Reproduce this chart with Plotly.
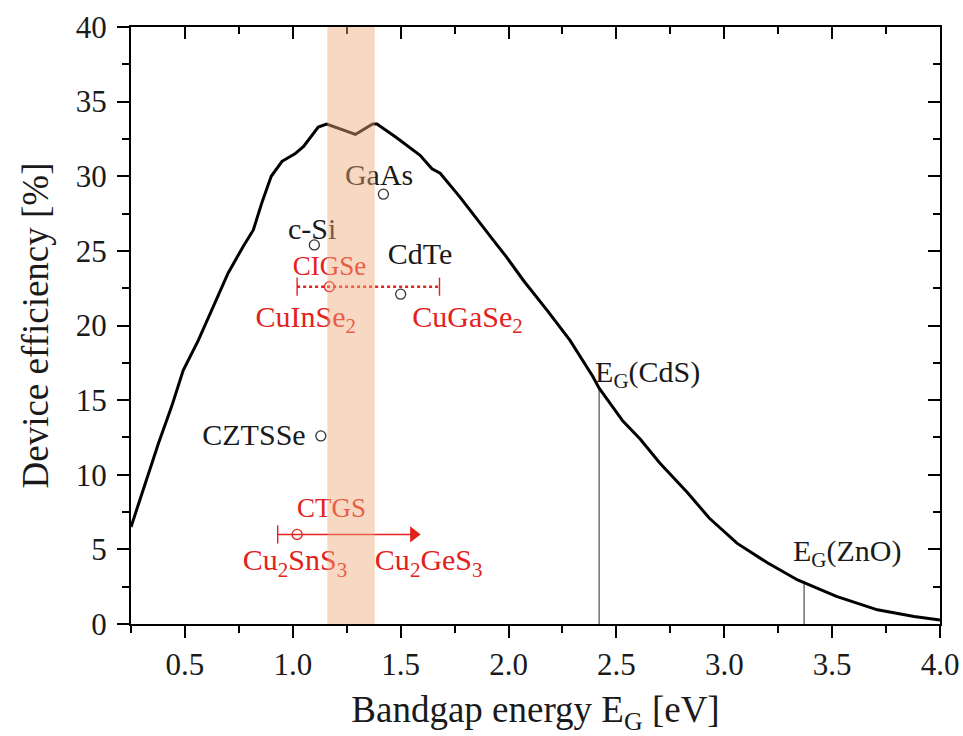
import plotly.graph_objects as go

# Efficiency limit versus absorber bandgap
bandgap_ev = [0.25, 0.315, 0.377, 0.439, 0.492, 0.562, 0.639, 0.70, 0.77, 0.817,
              0.856, 0.90, 0.95, 1.01, 1.05, 1.118, 1.157, 1.29, 1.37, 1.39,
              1.48, 1.59, 1.645, 1.683, 1.775, 1.822, 1.93, 1.99, 2.07, 2.18,
              2.285, 2.39, 2.42, 2.53, 2.61, 2.70, 2.83, 2.93, 3.06, 3.20,
              3.34, 3.52, 3.71, 3.88, 4.0]
efficiency_pct = [6.5, 9.4, 12.1, 14.6, 17.0, 19.0, 21.5, 23.5, 25.3, 26.4,
                  28.2, 30.0, 31.0, 31.5, 32.0, 33.3, 33.5, 32.8, 33.5, 33.5,
                  32.6, 31.4, 30.5, 30.2, 28.6, 27.7, 25.7, 24.6, 23.0, 21.0,
                  19.0, 16.6, 15.8, 13.6, 12.4, 10.8, 8.8, 7.1, 5.4, 4.1,
                  2.95, 1.85, 0.95, 0.5, 0.27]

# Record devices (bandgap, efficiency)
device_names = ["GaAs", "c-Si", "CdTe", "CZTSSe"]
device_eg = [1.42, 1.10, 1.50, 1.13]
device_eff = [28.8, 25.4, 22.1, 12.6]
device_label_x = [1.40, 1.09, 1.59, 0.82]
device_label_y = [29.9, 26.3, 24.6, 12.5]

# Tunable alloys: CIGSe (CuInSe2 -> CuGaSe2), CTGS (Cu2SnS3 -> Cu2GeS3)
cigse_range = [1.02, 1.68]
cigse_point = [1.17, 22.6]
ctgs_range = [0.93, 1.56]
ctgs_point = [1.02, 6.0]
alloy_names = ["CIGSe", "CuInSe<sub>2</sub>", "CuGaSe<sub>2</sub>",
               "CTGS", "Cu<sub>2</sub>SnS<sub>3</sub>", "Cu<sub>2</sub>GeS<sub>3</sub>"]
alloy_label_x = [1.17, 1.06, 1.81, 1.18, 1.01, 1.63]
alloy_label_y = [23.85, 20.4, 20.4, 7.6, 4.1, 4.1]

# Buffer / window layer bandgaps
window_names = ["E<sub>G</sub>(CdS)", "E<sub>G</sub>(ZnO)"]
window_eg = [2.42, 3.37]
window_eff = [15.7, 2.9]
window_label_x = [2.645, 3.57]
window_label_y = [16.75, 4.75]

# Optimum bandgap window
optimum_band = [1.16, 1.38]

FONT = "Liberation Serif"
RED = "#e3221c"
INK = "#1a1a1a"
LABEL_SIZE = 30
SMALL_LABEL_SIZE = 27

fig = go.Figure()

# vertical markers at window-layer bandgaps
for eg, eff in zip(window_eg, window_eff):
    fig.add_trace(go.Scatter(x=[eg, eg], y=[0, eff], mode="lines",
                             line=dict(color="#5a5a5a", width=1.3),
                             hoverinfo="skip", showlegend=False))

fig.add_trace(go.Scatter(x=bandgap_ev, y=efficiency_pct, mode="lines",
                         line=dict(color="black", width=3),
                         showlegend=False))

# CIGSe range: dotted bar with end caps
fig.add_trace(go.Scatter(x=cigse_range, y=[cigse_point[1]] * 2, mode="lines",
                         line=dict(color=RED, width=2.6, dash="dot"),
                         showlegend=False))
fig.add_trace(go.Scatter(x=cigse_range, y=[cigse_point[1]] * 2, mode="markers",
                         marker=dict(symbol="line-ns", size=13,
                                     line=dict(color=RED, width=1.4)),
                         showlegend=False))
fig.add_trace(go.Scatter(x=[cigse_point[0]], y=[cigse_point[1]], mode="markers",
                         marker=dict(symbol="circle-open", size=10,
                                     color=RED, line=dict(width=1.3)),
                         showlegend=False))

# CTGS range: solid arrow
fig.add_trace(go.Scatter(x=ctgs_range, y=[ctgs_point[1]] * 2, mode="lines",
                         line=dict(color=RED, width=1.6), showlegend=False))
fig.add_trace(go.Scatter(x=[ctgs_range[0]], y=[ctgs_point[1]], mode="markers",
                         marker=dict(symbol="line-ns", size=13,
                                     line=dict(color=RED, width=1.4)),
                         showlegend=False))
fig.add_trace(go.Scatter(x=[ctgs_range[1]], y=[ctgs_point[1]], mode="markers",
                         marker=dict(symbol="triangle-right", size=14, color=RED,
                                     line=dict(width=0)),
                         showlegend=False))
fig.add_trace(go.Scatter(x=[ctgs_point[0]], y=[ctgs_point[1]], mode="markers",
                         marker=dict(symbol="circle-open", size=10,
                                     color=RED, line=dict(width=1.3)),
                         showlegend=False))

# record devices
fig.add_trace(go.Scatter(x=device_eg, y=device_eff, mode="markers",
                         marker=dict(symbol="circle-open", size=10,
                                     color="#333333", line=dict(width=1.3)),
                         showlegend=False))

# labels
fig.add_trace(go.Scatter(x=device_label_x, y=device_label_y, mode="text",
                         text=device_names, textposition="middle center",
                         textfont=dict(family=FONT, size=LABEL_SIZE, color=INK),
                         showlegend=False))
fig.add_trace(go.Scatter(x=alloy_label_x[:1] + alloy_label_x[3:4],
                         y=alloy_label_y[:1] + alloy_label_y[3:4], mode="text",
                         text=[alloy_names[0], alloy_names[3]],
                         textposition="middle center",
                         textfont=dict(family=FONT, size=SMALL_LABEL_SIZE,
                                       color=RED),
                         showlegend=False))
fig.add_trace(go.Scatter(x=alloy_label_x[1:3] + alloy_label_x[4:],
                         y=alloy_label_y[1:3] + alloy_label_y[4:], mode="text",
                         text=alloy_names[1:3] + alloy_names[4:],
                         textposition="middle center",
                         textfont=dict(family=FONT, size=LABEL_SIZE, color=RED),
                         showlegend=False))
fig.add_trace(go.Scatter(x=window_label_x, y=window_label_y, mode="text",
                         text=window_names, textposition="middle center",
                         textfont=dict(family=FONT, size=LABEL_SIZE, color=INK),
                         showlegend=False))

# invisible trace to anchor the mirrored top/right axes
fig.add_trace(go.Scatter(x=[1], y=[1], xaxis="x2", yaxis="y2", mode="markers",
                         marker=dict(opacity=0), hoverinfo="skip",
                         showlegend=False))

fig.add_shape(type="rect", xref="x", yref="y",
              x0=optimum_band[0], x1=optimum_band[1], y0=0, y1=40,
              fillcolor="rgba(238,168,122,0.45)", line=dict(width=0),
              layer="above")

axis_font = dict(family=FONT, size=31, color=INK)
title_font = dict(family=FONT, size=37, color=INK)
fig.update_layout(
    width=963, height=736,
    margin=dict(l=131, r=23, t=27, b=112, autoexpand=False),
    paper_bgcolor="white", plot_bgcolor="white",
    font=dict(family=FONT, color=INK),
    xaxis=dict(range=[0.25, 4.0], tick0=0, dtick=0.5, tickformat=".1f",
               ticks="outside", ticklen=12, tickwidth=2, tickcolor="black",
               minor=dict(dtick=0.25, tick0=0, ticks="outside", ticklen=7,
                          tickwidth=2, tickcolor="black"),
               showline=True, linecolor="black", linewidth=2,
               showgrid=False, zeroline=False, tickfont=axis_font,
               ticklabelstandoff=0,
               title=dict(text="Bandgap energy E<sub>G</sub> [eV]",
                          font=title_font, standoff=16)),
    yaxis=dict(range=[0, 40], tick0=0, dtick=5,
               ticks="outside", ticklen=12, tickwidth=2, tickcolor="black",
               minor=dict(dtick=2.5, tick0=0, ticks="outside", ticklen=7,
                          tickwidth=2, tickcolor="black"),
               showline=True, linecolor="black", linewidth=2,
               showgrid=False, zeroline=False, tickfont=axis_font,
               ticklabelstandoff=4,
               title=dict(text="Device efficiency [%]",
                          font=title_font, standoff=16)),
    xaxis2=dict(range=[0.25, 4.0], overlaying="x", side="top", tick0=0,
                dtick=0.5, ticks="inside", ticklen=12, tickwidth=2,
                tickcolor="black",
                minor=dict(dtick=0.25, tick0=0, ticks="inside", ticklen=7,
                           tickwidth=2, tickcolor="black"),
                showline=True, linecolor="black", linewidth=2,
                showticklabels=False, showgrid=False, zeroline=False),
    yaxis2=dict(range=[0, 40], overlaying="y", side="right", tick0=0,
                dtick=5, ticks="inside", ticklen=12, tickwidth=2,
                tickcolor="black",
                minor=dict(dtick=2.5, tick0=0, ticks="inside", ticklen=7,
                           tickwidth=2, tickcolor="black"),
                showline=True, linecolor="black", linewidth=2,
                showticklabels=False, showgrid=False, zeroline=False),
)

fig.write_html("out.html")
